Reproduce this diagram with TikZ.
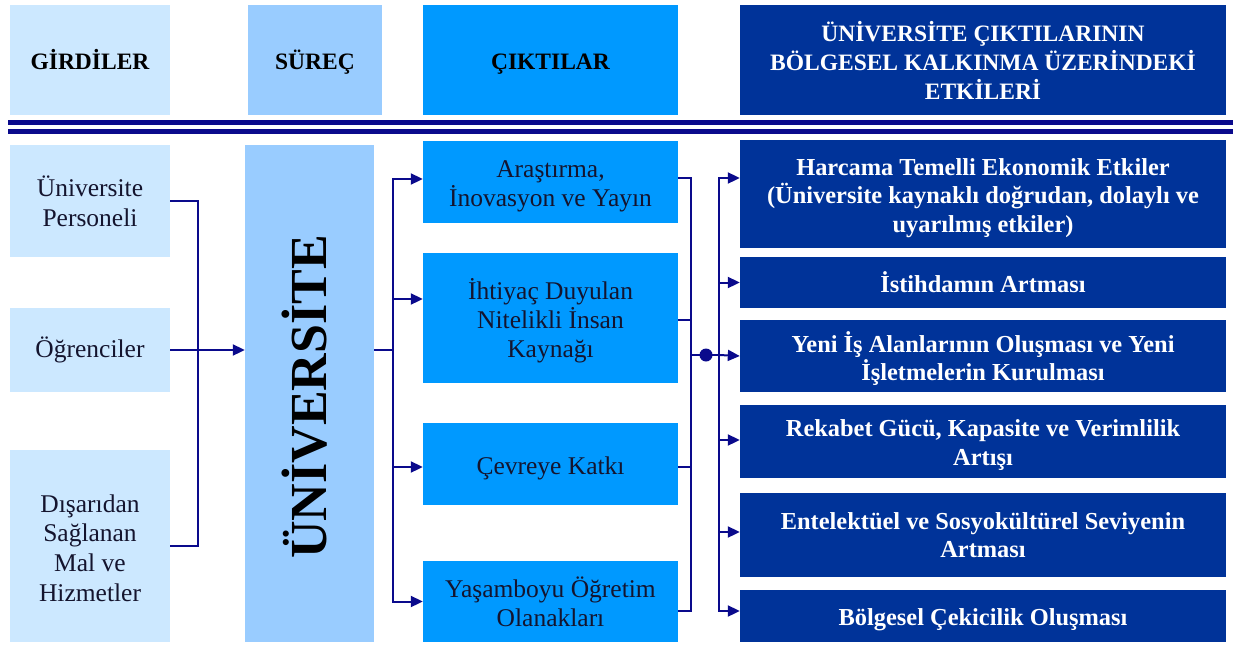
\documentclass[tikz,border=0pt]{standalone}
\usepackage{fontspec}
\setmainfont{Liberation Serif}
\usetikzlibrary{arrows.meta}
\definecolor{cLight}{HTML}{CCE8FF}
\definecolor{cMid}{HTML}{99CCFF}
\definecolor{cOut}{HTML}{0099FF}
\definecolor{cDark}{HTML}{003399}
\definecolor{cLine}{HTML}{0A0A8C}
\definecolor{cText}{HTML}{14142E}
\newcommand\firsth[1]{\rule{0pt}{#1pt}}
\begin{document}
\begin{tikzpicture}[x=1pt,y=-1pt,
  box/.style={rectangle, inner sep=0pt, align=center, anchor=center},
  hdr/.style={box, font=\fontsize{23.5}{29}\selectfont\bfseries, text=black, minimum height=110pt},
  onehdr/.style={hdr, text height=19.6pt, text depth=0pt},
  inbox/.style={box, fill=cLight, minimum width=160pt, text=cText, font=\fontsize{25.5}{29.8}\selectfont},
  outbox/.style={box, fill=cOut, minimum width=255pt, text=cText, font=\fontsize{25.5}{29}\selectfont},
  effbox/.style={box, fill=cDark, minimum width=486pt, text=white, font=\fontsize{24.4}{28.5}\selectfont\bfseries},
  conn/.style={draw=cLine, line width=2pt},
  arr/.style={conn, -{Triangle[length=12pt,width=11pt]}}]
\useasboundingbox (0,0) rectangle (1233,648);
% headers
\node[onehdr, fill=cLight, minimum width=160pt] (hg) at (90,60) {GİRDİLER};
\node[onehdr, fill=cMid, minimum width=134pt] (hs) at (315,60) {SÜREÇ};
\node[onehdr, fill=cOut, minimum width=255pt] (hc) at (550.5,60) {ÇIKTILAR};
\node[hdr, fill=cDark, minimum width=486pt, text=white] (he) at (983,60) {ÜNİVERSİTE ÇIKTILARININ\\BÖLGESEL KALKINMA ÜZERİNDEKİ\\ETKİLERİ};
% double rule
\fill[cLine] (8,120) rectangle (1233,125);
\fill[cLine] (8,128.5) rectangle (1233,133.5);
% inputs
\node[inbox, minimum height=112pt] (pers) at (90,201) {Üniversite\\Personeli};
\node[inbox, minimum height=84pt] (ogr) at (90,350) {Öğrenciler};
\node[inbox, minimum height=192pt] (dis) at (90,546) {\firsth{22}Dışarıdan\\Sağlanan\\Mal ve\\Hizmetler};
% process
\node[box, fill=cMid, minimum width=129pt, minimum height=497pt] (uni) at (309.5,393.5) {};
\node[rotate=90, font=\fontsize{52}{52}\selectfont\bfseries, text=black] (unit) at (305,397) {ÜNİVERSİTE};
% outputs
\node[outbox, minimum height=82pt] (ara) at (550.5,182) {\firsth{26}Araştırma,\\İnovasyon ve Yayın};
\node[outbox, minimum height=130pt] (ihti) at (550.5,318) {\firsth{27}İhtiyaç Duyulan\\Nitelikli İnsan\\Kaynağı};
\node[outbox, minimum height=82pt, text height=20pt, text depth=0pt] (cev) at (550.5,464) {Çevreye Katkı};
\node[outbox, minimum height=81pt] (yas) at (550.5,601.5) {Yaşamboyu Öğretim\\Olanakları};
% effects
\node[effbox, minimum height=108pt] (harc) at (983,194) {\firsth{25}Harcama Temelli Ekonomik Etkiler\\(Üniversite kaynaklı doğrudan, dolaylı ve\\uyarılmış etkiler)};
\node[effbox, minimum height=51pt] (ist) at (983,282.5) {İstihdamın Artması};
\node[effbox, minimum height=72pt] (yeni) at (983,356) {\firsth{26}Yeni İş Alanlarının Oluşması ve Yeni\\İşletmelerin Kurulması};
\node[effbox, minimum height=73pt] (rek) at (983,441.5) {\firsth{24}Rekabet Gücü, Kapasite ve Verimlilik\\Artışı};
\node[effbox, minimum height=84pt] (ent) at (983,535) {Entelektüel ve Sosyokültürel Seviyenin\\Artması};
\node[effbox, minimum height=52pt, text height=18pt, text depth=0pt] (bol) at (983,616) {Bölgesel Çekicilik Oluşması};
% junction coordinates
\coordinate (bl) at (198,350);
\coordinate (bm) at (393,350);
\coordinate (b1) at (691,355);
\coordinate (dot) at (706,355);
\coordinate (b2) at (719,355);
% left connectors
\draw[conn] (pers.east) -| (bl) |- (dis.east);
\draw[arr] (ogr.east) -- (uni.west |- ogr.east);
% middle connectors
\draw[conn] (uni.east |- bm) -- (bm);
\draw[arr] (bm) |- ([yshift=3pt]ara.west);
\draw[arr] (bm) |- ([yshift=19pt]ihti.west);
\draw[arr] (bm) |- ([yshift=-3pt]cev.west);
\draw[arr] (bm) |- (yas.west);
% right connectors
\draw[conn] ([yshift=4pt]ara.east) -| (b1);
\draw[conn] ([yshift=-2pt]ihti.east) -| (b1);
\draw[conn] ([yshift=-3pt]cev.east) -| (b1);
\draw[conn] ([yshift=-9.5pt]yas.east) -| (b1);
\draw[conn] (b1) -- (b2);
\fill[cLine] (dot) circle (6.5pt);
\draw[arr] (b2) |- ([yshift=16pt]harc.west);
\draw[arr] (b2) |- (ist.west);
\draw[arr] (b2) -- (yeni.west);
\draw[arr] (b2) |- ([yshift=1.5pt]rek.west);
\draw[arr] (b2) |- ([yshift=3pt]ent.west);
\draw[arr] (b2) |- ([yshift=5pt]bol.west);
\end{tikzpicture}
\end{document}
